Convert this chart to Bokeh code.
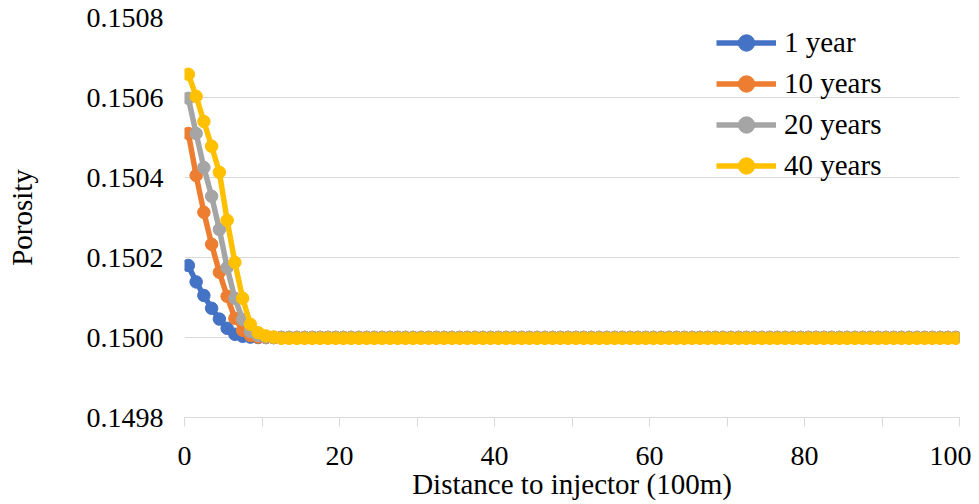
from bokeh.plotting import figure
from bokeh.models import FixedTicker, PrintfTickFormatter, Range1d, Legend, LegendItem
from bokeh.embed import file_html
from bokeh.resources import INLINE

# ---- data ----
distance = [i + 0.5 for i in range(100)]  # cell centres, 100m units

year1 = [0.150180, 0.150139, 0.150105, 0.150073, 0.150046, 0.150023, 0.150008,
         0.150003, 0.150001] + [0.150000] * 91
year10 = [0.150510, 0.150405, 0.150313, 0.150233, 0.150163, 0.150103, 0.150048,
          0.150018, 0.150005, 0.150001] + [0.150000] * 90
year20 = [0.150598, 0.150510, 0.150425, 0.150353, 0.150270, 0.150175, 0.150098,
          0.150045, 0.150015, 0.150005, 0.150001] + [0.150000] * 89
year40 = [0.150658, 0.150603, 0.150540, 0.150478, 0.150413, 0.150293, 0.150188,
          0.150098, 0.150033, 0.150012, 0.150004, 0.150001] + [0.149998] * 88

series_names = ["1 year", "10 years", "20 years", "40 years"]
series_values = [year1, year10, year20, year40]
series_colors = ["#4472C4", "#ED7D31", "#A5A5A5", "#FFC000"]

x_ticks = [0, 20, 40, 60, 80, 100]
x_minor = [10, 30, 50, 70, 90]
y_ticks = [0.1498, 0.1500, 0.1502, 0.1504, 0.1506, 0.1508]

FONT = "Liberation Serif"
GRID = "#D9D9D9"
TICK_FS = "28px"
LABEL_FS = "29px"

p = figure(width=971, height=504, output_backend="svg", toolbar_location=None,
           x_range=Range1d(0, 100), y_range=Range1d(0.1498, 0.1508),
           min_border_left=184, min_border_right=12, min_border_top=17,
           min_border_bottom=87)
p.outline_line_color = None
p.background_fill_color = "white"

items = []
for name, vals, col in zip(series_names, series_values, series_colors):
    r1 = p.line(distance, vals, line_color=col, line_width=5.5)
    r2 = p.scatter(distance, vals, size=12.5, fill_color=col, line_color=col)
    items.append(LegendItem(label=name, renderers=[r1, r2]))

# axes
p.xaxis.ticker = FixedTicker(ticks=x_ticks, minor_ticks=x_minor)
p.xaxis.axis_line_color = GRID
p.xaxis.major_tick_line_color = GRID
p.xaxis.minor_tick_line_color = GRID
p.xaxis.major_tick_in = 0
p.xaxis.major_tick_out = 9
p.xaxis.minor_tick_in = 0
p.xaxis.minor_tick_out = 9
p.xaxis.major_label_standoff = 20
p.xaxis.major_label_text_font = FONT
p.xaxis.major_label_text_font_size = TICK_FS
p.xaxis.major_label_text_color = "black"
p.xaxis.axis_label = "Distance to injector (100m)"
p.xaxis.axis_label_text_font = FONT
p.xaxis.axis_label_text_font_size = LABEL_FS
p.xaxis.axis_label_text_font_style = "normal"
p.xaxis.axis_label_text_color = "black"
p.xaxis.axis_label_standoff = 0

p.yaxis.ticker = FixedTicker(ticks=y_ticks)
p.yaxis.formatter = PrintfTickFormatter(format="%.4f")
p.yaxis.axis_line_color = None
p.yaxis.major_tick_line_color = None
p.yaxis.minor_tick_line_color = None
p.yaxis.major_tick_out = 0
p.yaxis.major_label_standoff = 21
p.yaxis.major_label_text_font = FONT
p.yaxis.major_label_text_font_size = TICK_FS
p.yaxis.major_label_text_color = "black"
p.yaxis.axis_label = "Porosity"
p.yaxis.axis_label_text_font = FONT
p.yaxis.axis_label_text_font_size = LABEL_FS
p.yaxis.axis_label_text_font_style = "normal"
p.yaxis.axis_label_text_color = "black"
p.yaxis.axis_label_standoff = 46

p.xgrid.grid_line_color = None
p.ygrid.ticker = FixedTicker(ticks=y_ticks)
p.ygrid.grid_line_color = GRID
p.ygrid.grid_line_width = 1

legend = Legend(items=items, location=(532, 231))
legend.label_text_font = FONT
legend.label_text_font_size = LABEL_FS
legend.label_text_color = "black"
legend.glyph_width = 60
legend.glyph_height = 41
legend.label_height = 41
legend.label_standoff = 8
legend.spacing = 0
legend.padding = 5
legend.margin = 0
legend.border_line_color = None
legend.background_fill_alpha = 0
p.add_layout(legend, "center")

open("out.html", "w").write(file_html(p, INLINE))
